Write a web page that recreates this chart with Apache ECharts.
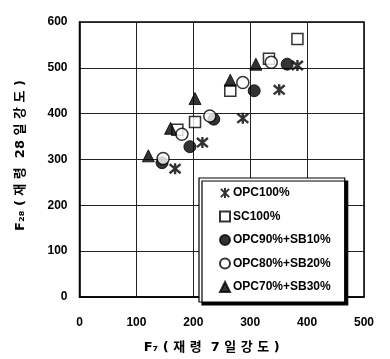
<!DOCTYPE html>
<html><head><meta charset="utf-8">
<script src="https://cdn.jsdelivr.net/npm/echarts@6/dist/echarts.min.js"></script>
<style>html,body{margin:0;padding:0;background:#fff}#c{width:390px;height:359px}</style>
</head><body><div id="c"></div>
<script>
const seriesNames = ['OPC100%', 'SC100%', 'OPC90%+SB10%', 'OPC80%+SB20%', 'OPC70%+SB30%'];
const opc100 = [[168,280],[216,337],[287,390],[351,452],[383,505]];
const sc100 = [[172,365],[203,382],[265,450],[333,520],[383,563]];
const opc90sb10 = [[145,293],[194,328],[236,388],[307,450],[365,508]];
const opc80sb20 = [[147,302],[180,355],[229,395],[287,468],[337,512]];
const opc70sb30 = [[121,308],[160,368],[203,433],[265,473],[310,508]];
const xTicks = [0,100,200,300,400,500];
const yTicks = [0,100,200,300,400,500,600];

const font = 'Arial, "Liberation Sans", "Noto Sans CJK KR", sans-serif';
const titleFont = '"DejaVu Sans", "Noto Sans CJK KR", sans-serif';
const chart = echarts.init(document.getElementById('c'), null, {renderer:'canvas'});
const star = 'path://M0,0L10,10M10,0L0,10M5,-1L5,11';
const styles = [
  {symbol: star, size: 11, item:{color:'#000', borderColor:'#000', borderWidth:2.4}},
  {symbol: 'rect', size: 11, item:{color:'#fff', borderColor:'#000', borderWidth:1.5}},
  {symbol: 'circle', size: 12, item:{color:'#000', borderColor:'#000', borderWidth:1}},
  {symbol: 'circle', size: 12, item:{color:'#fff', borderColor:'#000', borderWidth:1.5}},
  {symbol: 'triangle', size: 12, item:{color:'#000', borderColor:'#000', borderWidth:1}}
];
const datas = [opc100, sc100, opc90sb10, opc80sb20, opc70sb30];
chart.setOption({
  animation:false,
  backgroundColor:'#fff',
  grid:{left:79.5, right:26, top:22, bottom:60, show:true, borderColor:'#000', borderWidth:1.5},
  xAxis:{type:'value', min:0, max:500, interval:100,
    axisLine:{show:true, lineStyle:{color:'#000', width:1.5}},
    axisTick:{show:false},
    axisLabel:{color:'#000', fontSize:12, fontWeight:'bold', fontFamily:font, margin:20,
      formatter: v => xTicks.includes(v) ? String(v) : ''},
    splitLine:{show:true, lineStyle:{color:'#222', width:1}},
    name:'F₇ ( 재 령  7 일 강 도 )', nameLocation:'middle', nameGap:44,
    nameTextStyle:{color:'#000', fontSize:13, fontWeight:'bold', fontFamily:titleFont, padding:[0,20,0,0]}
  },
  yAxis:{type:'value', min:0, max:600, interval:100,
    axisLine:{show:true, lineStyle:{color:'#000', width:1.5}},
    axisTick:{show:false},
    axisLabel:{color:'#000', fontSize:12, fontWeight:'bold', fontFamily:font, margin:12,
      formatter: v => yTicks.includes(v) ? String(v) : ''},
    splitLine:{show:true, lineStyle:{color:'#222', width:1}},
    name:'F₂₈ ( 재 령  28 일 강 도 )', nameLocation:'middle', nameGap:52, nameRotate:90,
    nameTextStyle:{color:'#000', fontSize:13, fontWeight:'bold', fontFamily:titleFont, padding:[0,0,0,8]}
  },
  legend:{
    orient:'vertical', left:199, top:178,
    padding:[9,14,9,20], itemGap:11.5, itemWidth:10, itemHeight:10,
    backgroundColor:'#fff', borderColor:'#000', borderWidth:1.2,
    shadowColor:'#000', shadowBlur:0, shadowOffsetX:3, shadowOffsetY:3,
    textStyle:{color:'#000', fontSize:12, fontWeight:'bold', fontFamily:font, padding:[0,0,0,-2]},
    data: seriesNames
  },
  series: datas.map((d,i)=>({
    name: seriesNames[i], type:'scatter', data:d,
    symbol: styles[i].symbol, symbolSize: styles[i].size,
    itemStyle: styles[i].item, z: 3
  }))
});
</script></body></html>
